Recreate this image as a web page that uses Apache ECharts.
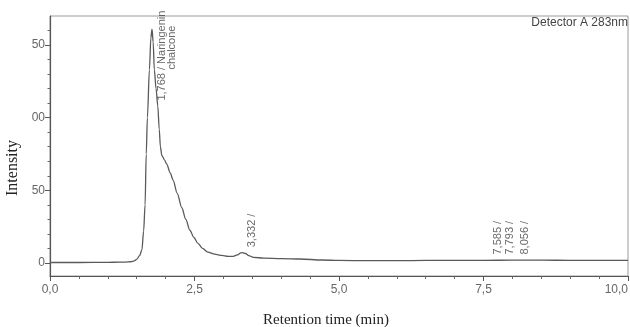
<!DOCTYPE html>
<html><head><meta charset="utf-8">
<script src="https://cdn.jsdelivr.net/npm/echarts@6/dist/echarts.min.js"></script>
<style>html,body{margin:0;padding:0;background:#fff}#c{width:630px;height:327px}</style>
</head><body><div id="c"></div>
<script>
// Chromatogram (Detector A 283nm)
const retentionTimes = [0, 0.5, 1.0, 1.2, 1.3, 1.4, 1.45, 1.5, 1.55, 1.59, 1.62, 1.645, 1.665, 1.685, 1.72, 1.745, 1.765, 1.785, 1.805, 1.835, 1.865, 1.89, 1.91, 1.935, 1.98, 2.02, 2.08, 2.13, 2.2, 2.28, 2.35, 2.42, 2.49, 2.56, 2.64, 2.73, 2.85, 2.97, 3.08, 3.17, 3.24, 3.30, 3.33, 3.38, 3.44, 3.52, 3.7, 4.0, 4.33, 4.7, 5.0, 5.5, 6.0, 6.5, 7.0, 7.5, 8.0, 8.5, 9.0, 9.5, 10.0];
const intensities    = [0.3, 0.3, 0.4, 0.5, 0.6, 0.8, 1.2, 2.5, 5, 9, 22, 40, 75, 100, 133, 155, 161, 152, 133, 120, 108, 92, 80, 74, 71, 68, 62, 57, 48, 38, 30, 22.5, 17.5, 13.5, 10, 7.5, 6, 5.2, 4.5, 4.5, 5.5, 6.9, 7.1, 6.5, 5, 3.8, 3.3, 3.0, 2.7, 2.0, 1.7, 1.6, 1.6, 1.7, 1.7, 1.8, 1.9, 1.9, 1.8, 1.8, 1.8];

const peakTimes   = [1.768, 3.332, 7.585, 7.793, 8.056];
const peakHeights = [161, 7, 2, 2, 2];
const peakLabels  = ['1,768 / Naringenin', '3,332 /', '7,585 /', '7,793 /', '8,056 /'];
const peakSubLabels = ['chalcone', '', '', '', ''];

const xTickValues = [0, 2.5, 5, 7.5, 10];
const xTickLabels = ['0,0', '2,5', '5,0', '7,5', '10,0'];
const yTickValues = [0, 50, 100, 150];
const yTickLabels = ['0', '50', '00', '50'];
const yMinorTickValues = [10, 20, 30, 40, 60, 70, 80, 90, 110, 120, 130, 140, 160];

const detectorTitle = 'Detector A 283nm';
const xAxisTitle = 'Retention time (min)';
const yAxisTitle = 'Intensity';

const Y_MIN = -9, Y_MAX = 170;

const chart = echarts.init(document.getElementById('c'), null, {renderer: 'canvas'});

const curve = retentionTimes.map((t, i) => [t, intensities[i]]);
const peaks = peakTimes.map((t, i) => ({
  value: [t, peakHeights[i]],
  label: { position: i === 0 ? [15, 72] : [10, -5] }
}));

chart.setOption({
  animation: false,
  title: {
    text: detectorTitle, right: 2, top: 17, padding: 0,
    textStyle: { fontSize: 12, fontWeight: 'normal', color: '#444', fontFamily: 'Liberation Sans, Arial, sans-serif' }
  },
  grid: { left: 50, right: 2, top: 16, bottom: 51, show: true, borderColor: '#9a9a9a', borderWidth: 1, containLabel: false, outerBoundsMode: 'none' },
  xAxis: {
    type: 'value', min: 0, max: 10, interval: 2.5,
    name: xAxisTitle, nameLocation: 'middle', nameGap: 37,
    nameTextStyle: { fontFamily: 'Liberation Serif, Times New Roman, serif', fontSize: 15, color: '#222', padding: [0, 26, 0, 0] },
    axisLine: { onZero: false, lineStyle: { color: '#555', width: 1.2 } },
    axisTick: { length: 5, lineStyle: { color: '#555' } },
    minorTick: { show: true, splitNumber: 5, length: 3, lineStyle: { color: '#666' } },
    splitLine: { show: false },
    axisLabel: {
      margin: 8, fontSize: 12, color: '#666', fontFamily: 'Liberation Sans, Arial, sans-serif',
      alignMaxLabel: 'right',
      formatter: v => { const k = xTickValues.indexOf(v); return k >= 0 ? xTickLabels[k] : ''; }
    }
  },
  yAxis: [{
    type: 'value', min: Y_MIN, max: Y_MAX, position: 'left',
    name: yAxisTitle, nameLocation: 'middle', nameGap: 26,
    nameTextStyle: { fontFamily: 'Liberation Serif, Times New Roman, serif', fontSize: 16, color: '#222', padding: [0, 44, 0, 0] },
    axisLine: { show: true, lineStyle: { color: '#555', width: 1.2 } },
    axisTick: { show: true, customValues: yTickValues, length: 5, lineStyle: { color: '#555' } },
    splitLine: { show: false },
    axisLabel: {
      customValues: yTickValues, margin: 5, fontSize: 12, color: '#666', fontFamily: 'Liberation Sans, Arial, sans-serif',
      formatter: v => { const k = yTickValues.indexOf(v); return k >= 0 ? yTickLabels[k] : ''; }
    }
  }, {
    type: 'value', min: Y_MIN, max: Y_MAX, position: 'left', offset: 0,
    axisLine: { show: false },
    axisTick: { show: true, customValues: yMinorTickValues, length: 2.5, lineStyle: { color: '#666' } },
    axisLabel: { show: false },
    splitLine: { show: false }
  }],
  series: [{
    type: 'line', data: curve, showSymbol: false, smooth: 0.3, smoothMonotone: 'x',
    lineStyle: { color: '#5a5a5a', width: 1.3 }, yAxisIndex: 0, z: 3
  }, {
    type: 'scatter', data: peaks, symbolSize: 1, itemStyle: { color: 'rgba(0,0,0,0)' }, yAxisIndex: 0, z: 4,
    label: {
      show: true, rotate: 90, align: 'left', verticalAlign: 'middle',
      color: '#444', fontFamily: 'Liberation Sans, Arial, sans-serif', fontSize: 11, lineHeight: 10,
      formatter: p => {
        const i = p.dataIndex;
        return peakSubLabels[i] ? `{a|${peakLabels[i]}}\n{b|${peakSubLabels[i]}}` : `{a|${peakLabels[i]}}`;
      },
      rich: {
        a: { fontSize: 11, lineHeight: 10, color: '#444', fontFamily: 'Liberation Sans, Arial, sans-serif' },
        b: { fontSize: 11, lineHeight: 10, color: '#444', fontFamily: 'Liberation Sans, Arial, sans-serif', padding: [0, 0, 0, 31] }
      }
    }
  }]
});
</script>
</body></html>
